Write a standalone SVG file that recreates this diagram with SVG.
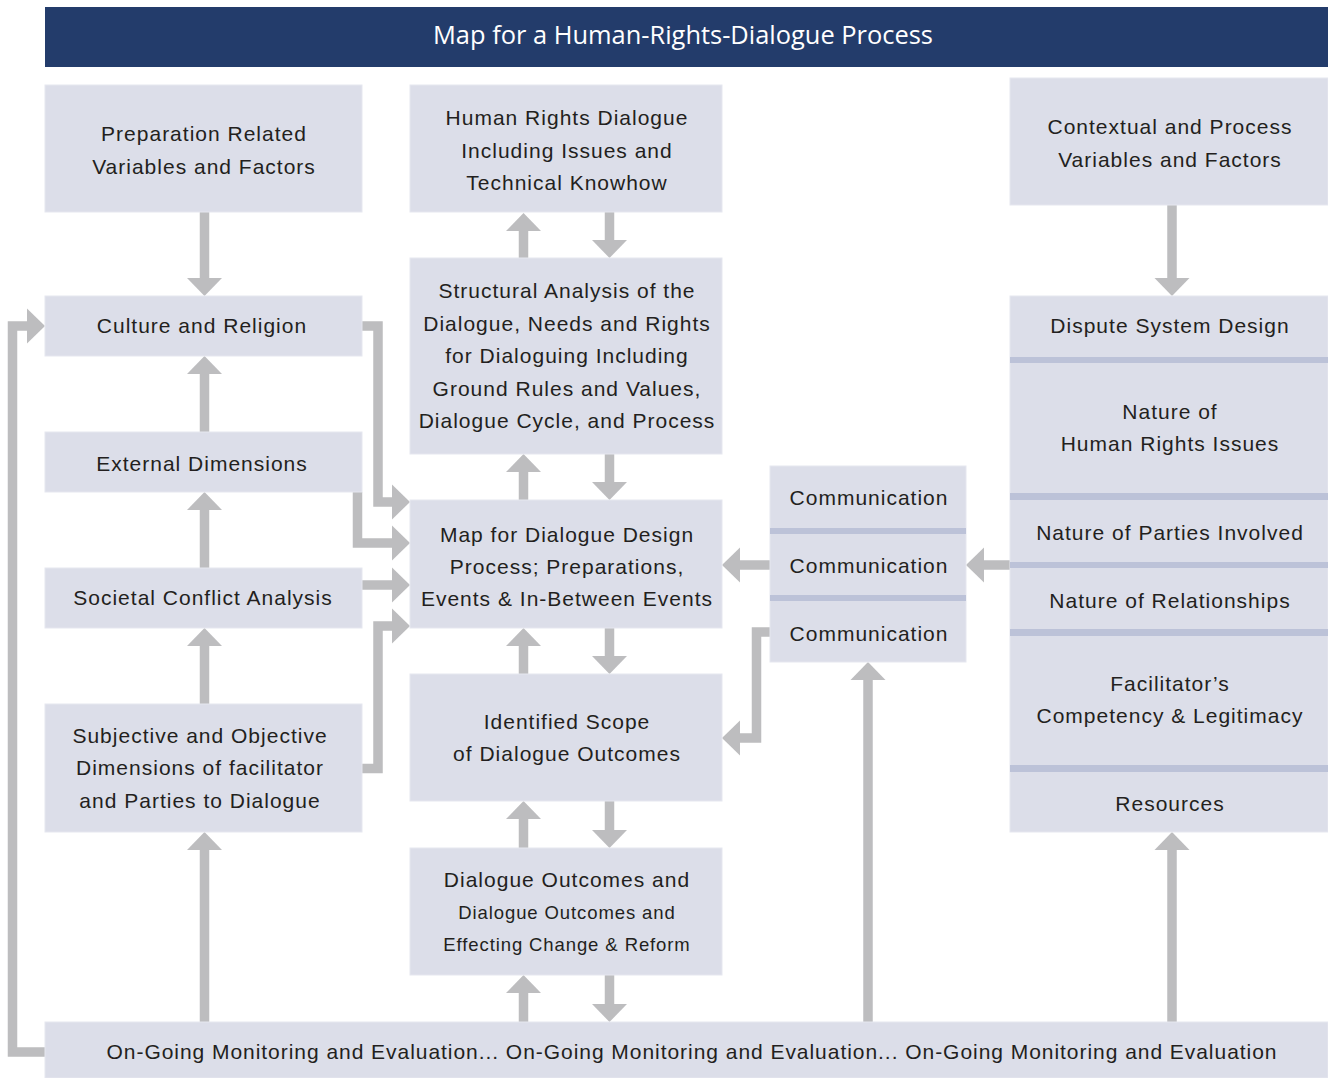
<svg xmlns="http://www.w3.org/2000/svg" width="1328" height="1078" viewBox="0 0 1328 1078">
<defs>
<style>
.box{fill:#dcdee9;stroke:#e6e7ef;stroke-width:1}
.band{fill:#bcc2d8}
.t{font-family:"Liberation Sans",Arial,Helvetica,sans-serif;font-size:21px;letter-spacing:1px;fill:#231f20;text-anchor:middle}
.s{font-size:18.5px;letter-spacing:0.9px}
.c{fill:none;stroke:#bdbdbf;stroke-width:9.5;stroke-linejoin:miter;marker-end:url(#ah)}
</style>
<marker id="ah" markerUnits="userSpaceOnUse" markerWidth="19" markerHeight="36" refX="0" refY="17.5" orient="auto" overflow="visible">
<path d="M0,0 L18,17.5 L0,35 Z" fill="#bdbdbf"/>
</marker>
</defs>
<rect width="1328" height="1078" fill="#ffffff"/>

<g id="title">
<rect x="45" y="7" width="1283" height="60" fill="#233c6b"/>
<text x="683" y="44" font-family="'Open Sans','Noto Sans',sans-serif" font-size="25" fill="#ffffff" text-anchor="middle" textLength="500" lengthAdjust="spacingAndGlyphs">Map for a Human-Rights-Dialogue Process</text>
</g>

<g id="connectors">
<path class="c" d="M204.5,212 V278"/>
<path class="c" d="M204.5,432 V374"/>
<path class="c" d="M204.5,568 V510"/>
<path class="c" d="M204.5,704 V646"/>
<path class="c" d="M204.5,1022 V850"/>
<path class="c" d="M45,1052 H12.5 V326 H27"/>
<path class="c" d="M362,326 H378 V502 H392"/>
<path class="c" d="M357.5,492 V543 H392"/>
<path class="c" d="M362,585 H392"/>
<path class="c" d="M362,768.5 H378 V626 H392"/>
<path class="c" d="M523.5,258 V231"/>
<path class="c" d="M609.5,212 V240"/>
<path class="c" d="M523.5,500 V472"/>
<path class="c" d="M609.5,454 V482"/>
<path class="c" d="M523.5,674 V646"/>
<path class="c" d="M609.5,628 V656"/>
<path class="c" d="M523.5,848 V819"/>
<path class="c" d="M609.5,801 V830"/>
<path class="c" d="M523.5,1022 V993"/>
<path class="c" d="M609.5,975 V1004"/>
<path class="c" d="M770,565 H740"/>
<path class="c" d="M1010,565 H984"/>
<path class="c" d="M770,632 H756.5 V738 H740"/>
<path class="c" d="M868,1022 V680"/>
<path class="c" d="M1172,205 V278"/>
<path class="c" d="M1172,1022 V850"/>
</g>

<g id="preparation">
<rect class="box" x="45" y="85" width="317" height="127"/>
<text class="t"><tspan x="204" y="141">Preparation Related</tspan><tspan x="204" y="174">Variables and Factors</tspan></text>
</g>
<g id="culture">
<rect class="box" x="45" y="296" width="317" height="60"/>
<text class="t" x="202" y="333">Culture and Religion</text>
</g>
<g id="external">
<rect class="box" x="45" y="432" width="317" height="60"/>
<text class="t" x="202" y="471">External Dimensions</text>
</g>
<g id="societal">
<rect class="box" x="45" y="568" width="317" height="60"/>
<text class="t" x="203" y="605">Societal Conflict Analysis</text>
</g>
<g id="subjective">
<rect class="box" x="45" y="704" width="317" height="128"/>
<text class="t"><tspan x="200" y="743">Subjective and Objective</tspan><tspan x="200" y="775">Dimensions of facilitator</tspan><tspan x="200" y="808">and Parties to Dialogue</tspan></text>
</g>

<g id="hr-dialogue">
<rect class="box" x="410" y="85" width="312" height="127"/>
<text class="t"><tspan x="567" y="125">Human Rights Dialogue</tspan><tspan x="567" y="158">Including Issues and</tspan><tspan x="567" y="190">Technical Knowhow</tspan></text>
</g>
<g id="structural">
<rect class="box" x="410" y="258" width="312" height="196"/>
<text class="t"><tspan x="567" y="298">Structural Analysis of the</tspan><tspan x="567" y="331">Dialogue, Needs and Rights</tspan><tspan x="567" y="363">for Dialoguing Including</tspan><tspan x="567" y="396">Ground Rules and Values,</tspan><tspan x="567" y="428">Dialogue Cycle, and Process</tspan></text>
</g>
<g id="map-design">
<rect class="box" x="410" y="500" width="312" height="128"/>
<text class="t"><tspan x="567" y="542">Map for Dialogue Design</tspan><tspan x="567" y="574">Process; Preparations,</tspan><tspan x="567" y="606">Events &amp; In-Between Events</tspan></text>
</g>
<g id="scope">
<rect class="box" x="410" y="674" width="312" height="127"/>
<text class="t"><tspan x="567" y="729">Identified Scope</tspan><tspan x="567" y="761">of Dialogue Outcomes</tspan></text>
</g>
<g id="outcomes">
<rect class="box" x="410" y="848" width="312" height="127"/>
<text class="t"><tspan x="567" y="887">Dialogue Outcomes and</tspan></text>
<text class="t s"><tspan x="567" y="919">Dialogue Outcomes and</tspan><tspan x="567" y="951">Effecting Change &amp; Reform</tspan></text>
</g>

<g id="communication">
<rect class="box" x="770" y="466" width="196" height="196"/>
<rect class="band" x="770" y="528" width="196" height="6"/>
<rect class="band" x="770" y="595" width="196" height="6"/>
<g id="comm-1"><text class="t" x="869" y="505">Communication</text></g>
<g id="comm-2"><text class="t" x="869" y="573">Communication</text></g>
<g id="comm-3"><text class="t" x="869" y="641">Communication</text></g>
</g>

<g id="contextual">
<rect class="box" x="1010" y="78" width="318" height="127"/>
<text class="t"><tspan x="1170" y="134">Contextual and Process</tspan><tspan x="1170" y="167">Variables and Factors</tspan></text>
</g>

<g id="factors-stack">
<rect class="box" x="1010" y="296" width="318" height="536"/>
<rect class="band" x="1010" y="357" width="318" height="6"/>
<rect class="band" x="1010" y="493" width="318" height="7"/>
<rect class="band" x="1010" y="562" width="318" height="6"/>
<rect class="band" x="1010" y="629" width="318" height="7"/>
<rect class="band" x="1010" y="765" width="318" height="7"/>
<g id="dispute"><text class="t" x="1170" y="333">Dispute System Design</text></g>
<g id="nature-hr"><text class="t"><tspan x="1170" y="419">Nature of</tspan><tspan x="1170" y="451">Human Rights Issues</tspan></text></g>
<g id="parties"><text class="t" x="1170" y="540">Nature of Parties Involved</text></g>
<g id="relationships"><text class="t" x="1170" y="608">Nature of Relationships</text></g>
<g id="facilitator"><text class="t"><tspan x="1170" y="691">Facilitator’s</tspan><tspan x="1170" y="723">Competency &amp; Legitimacy</tspan></text></g>
<g id="resources"><text class="t" x="1170" y="811">Resources</text></g>
</g>

<g id="monitoring">
<rect class="box" x="45" y="1022" width="1283" height="56"/>
<text class="t" x="692" y="1059" textLength="1171" lengthAdjust="spacing">On-Going Monitoring and Evaluation... On-Going Monitoring and Evaluation... On-Going Monitoring and Evaluation</text>
</g>
</svg>
